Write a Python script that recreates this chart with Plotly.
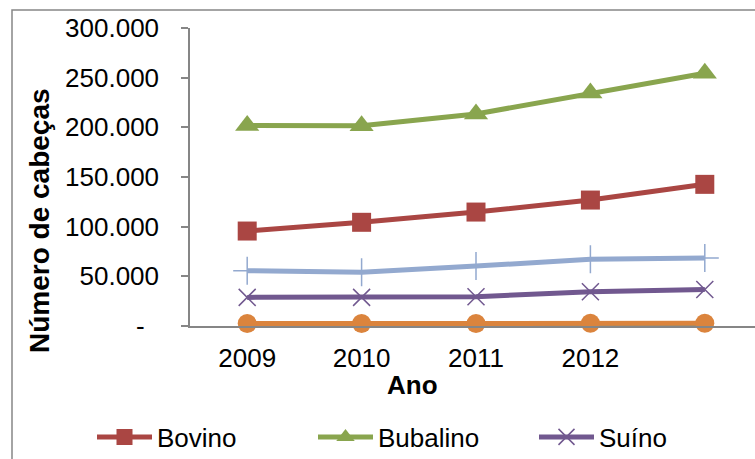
import plotly.graph_objects as go

# Rebanho por espécie (número de cabeças)
anos = [0, 1, 2, 3, 4]
rotulos_anos = ["2009", "2010", "2011", "2012", ""]

bovino = [95600, 104400, 114700, 126800, 142600]
bubalino = [201800, 201600, 213500, 234500, 254500]
suino = [28800, 28800, 29500, 34500, 36800]
ovino = [55700, 54200, 60400, 67100, 68500]
caprino = [2000, 2100, 2100, 2200, 2200]
equino = [2500, 2600, 2600, 2700, 2700]

y_ticks = [0, 50000, 100000, 150000, 200000, 250000, 300000]
y_tick_text = ["-\u00a0\u00a0", "50.000", "100.000", "150.000", "200.000", "250.000", "300.000"]

FONT = "Liberation Sans, Arial, sans-serif"
GREY = "#868686"

W, H = 755, 459
ML, MR, MT, MB = 190, 0, 28, 133
PW, PH = W - ML - MR, H - MT - MB


def px_x(x):
    return (x - ML) / PW


def px_y(y):
    return (H - MB - y) / PH


fig = go.Figure()

series = [
    ("Ovino", ovino, "#93A9CF", dict(symbol="cross-thin-open", size=20, line=dict(width=1.5, color="#93A9CF")), False),
    ("Caprino", caprino, "#4198AF", dict(symbol="asterisk-open", size=12, line=dict(width=1.2, color="#4198AF")), False),
    ("Equino", equino, "#DB843D", dict(symbol="circle", size=19, color="#DB843D"), False),
    ("Suíno", suino, "#71588F", dict(symbol="x-thin-open", size=17, line=dict(width=1.5, color="#71588F")), True),
    ("Bovino", bovino, "#AA4643", dict(symbol="square", size=19, color="#AA4643"), True),
    ("Bubalino", bubalino, "#89A54E", dict(symbol="triangle-up", size=21, color="#89A54E"), True),
]
legend_rank = {"Bovino": 1, "Bubalino": 2, "Suíno": 3}

for name, vals, color, marker, show in series:
    fig.add_trace(go.Scatter(
        x=anos, y=vals, name=name, mode="lines+markers",
        line=dict(color=color, width=5),
        marker=marker, cliponaxis=False, showlegend=show,
        legendrank=legend_rank.get(name, 1000),
    ))

fig.update_layout(
    width=W, height=H,
    margin=dict(l=ML, r=MR, t=MT, b=MB, autoexpand=False),
    paper_bgcolor="white", plot_bgcolor="white",
    font=dict(family=FONT, size=26, color="black"),
    showlegend=True,
    legend=dict(
        orientation="h", x=px_x(92), xanchor="left", y=px_y(437), yanchor="middle",
        font=dict(size=26), itemwidth=55, entrywidth=151, entrywidthmode="pixels",
        traceorder="normal", bgcolor="rgba(0,0,0,0)",
    ),
    xaxis=dict(
        range=[-0.5, -0.5 + PW / 114.4], tickvals=anos, ticktext=rotulos_anos,
        showgrid=False, zeroline=False, showline=True, linecolor=GREY, linewidth=1.5,
        ticks="", ticklabelstandoff=8, tickfont=dict(size=26),
    ),
    yaxis=dict(
        range=[0, 300000], tickvals=y_ticks, ticktext=y_tick_text,
        showgrid=False, zeroline=False, showline=True, linecolor=GREY, linewidth=1.5,
        ticks="outside", ticklen=7, tickcolor=GREY, tickwidth=1.5,
        ticklabelstandoff=17, tickfont=dict(size=26),
    ),
    annotations=[
        dict(text="<b>Número de cabeças</b>", textangle=-90, x=px_x(39), y=px_y(221),
             xref="paper", yref="paper", showarrow=False, font=dict(size=28),
             xanchor="center", yanchor="middle"),
        dict(text="<b>Ano</b>", x=px_x(412), y=px_y(385), xref="paper", yref="paper",
             showarrow=False, font=dict(size=26), xanchor="center", yanchor="middle"),
    ],
    shapes=[
        dict(type="rect", xref="paper", yref="paper",
             x0=px_x(12), y0=px_y(10), x1=px_x(W + 40), y1=px_y(H + 40),
             line=dict(color=GREY, width=1.5), fillcolor="rgba(0,0,0,0)", layer="below"),
    ],
)

fig.write_html("out.html")
